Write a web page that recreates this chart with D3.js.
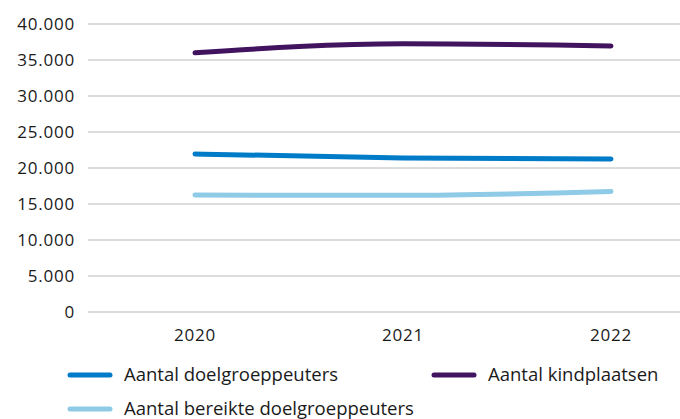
<!DOCTYPE html>
<html>
<head>
<meta charset="utf-8">
<script src="https://cdn.jsdelivr.net/npm/d3@7"></script>
<style>
  body { margin: 0; background: #fff; }
  text { font-family: "Open Sans", sans-serif; fill: #1a1a1a; }
</style>
</head>
<body>
<div id="chart"></div>
<script>
let years = ["2020", "2021", "2022"];
let doelgroeppeuters = [21950, 21400, 21250];
let kindplaatsen = [36000, 37250, 36950];
let bereikt = [16250, 16200, 16750];
let yTicks = [0, 5000, 10000, 15000, 20000, 25000, 30000, 35000, 40000];

let svgWidth = 680;
let svgHeight = 419;

let margin = { top: 24, right: 0, bottom: 107, left: 88 };
let height = svgHeight - margin.top - margin.bottom;

let svg = d3.select("#chart")
  .append("svg")
  .attr("width", svgWidth)
  .attr("height", svgHeight);

let chartGroup = svg.append("g")
  .attr("transform", `translate(0, ${margin.top})`);

let xScale = d3.scalePoint()
  .domain(years)
  .range([195, 611]);

let yScale = d3.scaleLinear()
  .domain([0, 40000])
  .range([height, 0]);

let fmt = d => d3.format(",")(d).replace(/,/g, ".");

// gridlines
chartGroup.selectAll(".grid")
  .data(yTicks)
  .enter()
  .append("line")
  .attr("x1", margin.left)
  .attr("x2", svgWidth)
  .attr("y1", d => yScale(d))
  .attr("y2", d => yScale(d))
  .attr("stroke", "#dcdcdc")
  .attr("stroke-width", 2);

// y labels
chartGroup.selectAll(".ylab")
  .data(yTicks)
  .enter()
  .append("text")
  .attr("x", 75)
  .attr("y", d => yScale(d))
  .attr("dy", "0.35em")
  .attr("text-anchor", "end")
  .style("font-size", "17px")
  .style("letter-spacing", "0.8px")
  .text(fmt);

// x labels
chartGroup.selectAll(".xlab")
  .data(years)
  .enter()
  .append("text")
  .attr("x", d => xScale(d))
  .attr("y", height + 23)
  .attr("dy", "0.35em")
  .attr("text-anchor", "middle")
  .style("font-size", "17px")
  .style("letter-spacing", "0.8px")
  .text(d => d);

let series = [
  { name: "Aantal doelgroeppeuters", values: doelgroeppeuters, color: "#007bc7" },
  { name: "Aantal kindplaatsen", values: kindplaatsen, color: "#42145f" },
  { name: "Aantal bereikte doelgroeppeuters", values: bereikt, color: "#8fcae7" }
];

let line = d3.line()
  .x((d, i) => xScale(years[i]))
  .y(d => yScale(d))
  .curve(d3.curveMonotoneX);

chartGroup.selectAll(".series")
  .data(series)
  .enter()
  .append("path")
  .attr("d", d => line(d.values))
  .attr("fill", "none")
  .attr("stroke", d => d.color)
  .attr("stroke-width", 5)
  .attr("stroke-linecap", "round");

// legend
let legendPos = [
  { x: 70, y: 375 },
  { x: 434, y: 375 },
  { x: 70, y: 409 }
];

let legend = svg.selectAll(".legend")
  .data(series)
  .enter()
  .append("g")
  .attr("transform", (d, i) => `translate(${legendPos[i].x}, ${legendPos[i].y})`);

legend.append("line")
  .attr("x1", 0)
  .attr("x2", 40)
  .attr("stroke", d => d.color)
  .attr("stroke-width", 5)
  .attr("stroke-linecap", "round");

legend.append("text")
  .attr("x", 54)
  .attr("dy", "0.35em")
  .style("font-size", "18.5px")
  .text(d => d.name);
</script>
</body>
</html>
